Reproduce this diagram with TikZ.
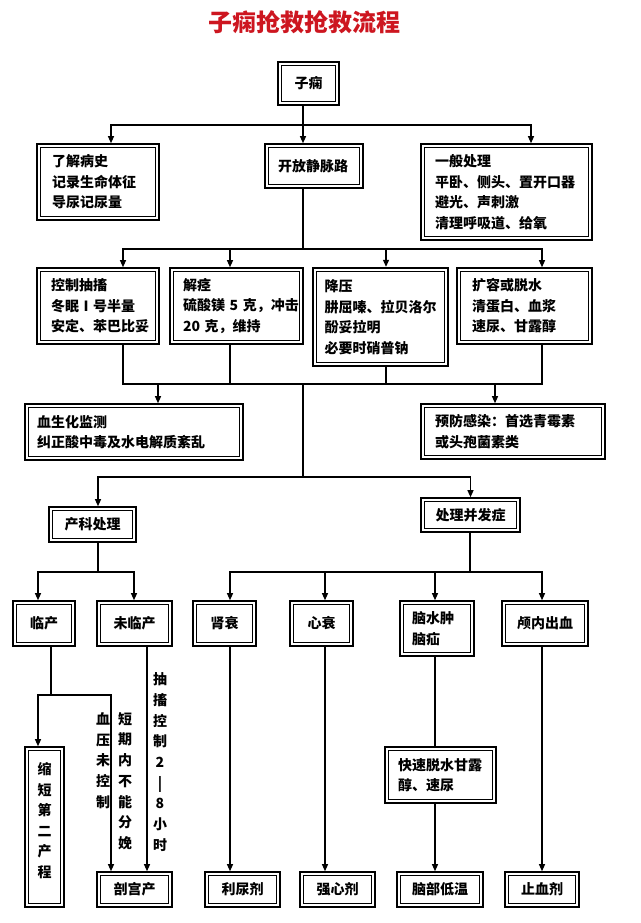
\documentclass[tikz,border=0pt]{standalone}
\usepackage{fontspec}
\newfontfamily\cjk{Noto Sans CJK SC}
\usetikzlibrary{arrows.meta}
\definecolor{titlered}{RGB}{205,22,32}
\tikzset{
  dbox/.style={draw, line width=1.6pt, inner sep=0pt, fill=white,
    font=\cjk\bfseries\fontsize{14}{20.5}\selectfont,
    path picture={\draw[line width=0.9pt] ([shift={(3.6pt,3.6pt)}]path picture bounding box.south west) rectangle ([shift={(-3.6pt,-3.6pt)}]path picture bounding box.north east);}},
  lbox/.style={align=left},
  vtxt/.style={align=center, inner sep=0pt, font=\cjk\bfseries\fontsize{14}{20.7}\selectfont},
  arr/.style={-{Triangle[length=7pt, width=6pt]}}
}
\begin{document}
\begin{tikzpicture}[x=1pt, y=-1pt, line width=1.1pt]
		\fill[white] (0,0) rectangle (640,923);
		\useasboundingbox (0,0) rectangle (640,923);
		\node[font=\cjk\bfseries\fontsize{24}{28}\selectfont, text=titlered] (title) at (304,22) {子痫抢救抢救流程};
		
		\node[dbox, minimum width=61pt, minimum height=43pt] (top) at (308.5,83.5) {子痫};
		
		\node[dbox, lbox, minimum width=122pt, minimum height=76pt, text width=92pt] (hist) at (98,182) {了解病史\\记录生命体征\\导尿记尿量};
		\node[dbox, lbox, minimum width=98pt, minimum height=44pt, text width=72pt] (iv) at (314,166) {开放静脉路};
		\node[dbox, lbox, minimum width=171pt, minimum height=96pt, text width=143pt] (gen) at (506.5,192) {一般处理\\平卧、侧头、置开口器\\避光、声刺激\\清理呼吸道、给氧};
		
		\node[dbox, lbox, minimum width=122pt, minimum height=76pt, text width=94pt] (conv) at (98,306) {控制抽搐\\冬眠Ⅰ号半量\\安定、苯巴比妥};
		\node[dbox, lbox, minimum width=133pt, minimum height=76pt, text width=107pt] (spasm) at (236.5,306) {解痉\\硫酸镁~5~克，冲击\\20~克，维持};
		\node[dbox, lbox, line width=2.4pt, minimum width=135pt, minimum height=98pt, text width=112pt] (bp) at (380.5,317) {降压\\肼屈嗪、拉贝洛尔\\酚妥拉明\\必要时硝普钠};
		\node[dbox, lbox, minimum width=135pt, minimum height=76pt, text width=105pt] (fluid) at (524.5,306) {扩容或脱水\\清蛋白、血浆\\速尿、甘露醇};
		
		\node[dbox, lbox, minimum width=218pt, minimum height=56pt, text width=194pt] (lab) at (134,432) {血生化监测\\纠正酸中毒及水电解质紊乱};
		\node[dbox, lbox, minimum width=184pt, minimum height=55pt, text width=156pt] (inf) at (513,431.5) {预防感染：首选青霉素\\或头孢菌素类};
		
		\node[dbox, minimum width=87pt, minimum height=35pt] (obst) at (92.5,524.5) {产科处理};
		\node[dbox, minimum width=99pt, minimum height=34pt] (comp) at (470.5,515) {处理并发症};
		
		\node[dbox, minimum width=62pt, minimum height=45pt] (labor) at (44,623.5) {临产};
		\node[dbox, minimum width=75pt, minimum height=45pt] (prelab) at (134.5,623.5) {未临产};
		\node[dbox, minimum width=63pt, minimum height=45pt] (kid) at (224.5,623.5) {肾衰};
		\node[dbox, minimum width=63pt, minimum height=45pt] (heart) at (321.5,623.5) {心衰};
		\node[dbox, lbox, minimum width=74pt, minimum height=55pt, text width=50pt] (brain) at (437,628.5) {脑水肿\\脑疝};
		\node[dbox, minimum width=86pt, minimum height=45pt] (bleed) at (545,623.5) {颅内出血};
		
		\node[dbox, align=center, minimum width=39pt, minimum height=160pt] (shorten) at (44.5,827) {缩\\短\\第\\二\\产\\程\\[-6pt]\mbox{}};
		\node[dbox, lbox, minimum width=111pt, minimum height=56pt, text width=85pt] (dehyd) at (440.5,775) {快速脱水甘露\\醇、速尿};
		\node[dbox, minimum width=75pt, minimum height=35pt] (cs) at (134.5,889.5) {剖宫产};
		\node[dbox, minimum width=75pt, minimum height=35pt] (diur) at (242.5,889.5) {利尿剂};
		\node[dbox, minimum width=75pt, minimum height=35pt] (card) at (337.5,889.5) {强心剂};
		\node[dbox, minimum width=86pt, minimum height=35pt] (cool) at (440,889.5) {脑部低温};
		\node[dbox, minimum width=74pt, minimum height=35pt] (stop) at (542,889.5) {止血剂};
		
		\node[vtxt] (n1) at (103,760.4) {血\\压\\未\\控\\制};
		\node[vtxt] (n2) at (125,781) {短\\期\\内\\不\\能\\分\\娩};
		\node[vtxt] (n3) at (160,762) {抽\\搐\\控\\制\\2\\|\\8\\小\\时};
		
		\coordinate (b1) at (303,125);
		\coordinate (b2) at (303,249);
		\coordinate (b3) at (303,384);
		\coordinate (b4) at (303,477);
		\coordinate (b5) at (98,572);
		\coordinate (b6) at (470,572);
		\coordinate (b7) at (51,695);
		
		\draw (b1 |- top.south) -- (b1);
		\draw[arr] (b1) -| ([xshift=13pt]hist.north);
		\draw[arr] (b1) -- (b1 |- iv.north);
		\draw[arr] (b1) -| ([xshift=24.5pt]gen.north);
		
		\draw (b2 |- iv.south) -- (b2);
		\draw[arr] (b2) -| ([xshift=25pt]conv.north);
		\draw[arr] (b2) -| ([xshift=-6.5pt]spasm.north);
		\draw[arr] (b2) -| ([xshift=5.5pt]bp.north);
		\draw[arr] (b2) -| ([xshift=17.5pt]fluid.north);
		
		\draw ([xshift=25pt]conv.south) |- (b3);
		\draw ([xshift=-6.5pt]spasm.south) |- (b3);
		\draw ([xshift=5.5pt]bp.south) |- (b3);
		\draw ([xshift=17.5pt]fluid.south) |- (b3);
		\draw[arr] (b3) -| ([xshift=24pt]lab.north);
		\draw[arr] (b3) -| ([xshift=-18pt]inf.north);
		\draw (b3) -- (b4);
		
		\draw[arr] (b4) -| ([xshift=5.5pt]obst.north);
		\draw[arr] (b4) -| (comp.north);
		
		\draw ([xshift=5.5pt]obst.south) -- (b5);
		\draw[arr] (b5) -| ([xshift=-6pt]labor.north);
		\draw[arr] (b5) -| ([xshift=-0.5pt]prelab.north);
		\draw (b6 |- comp.south) -- (b6);
		\draw[arr] (b6) -| ([xshift=5.5pt]kid.north);
		\draw[arr] (b6) -| ([xshift=3.5pt]heart.north);
		\draw[arr] (b6) -| ([xshift=-2pt]brain.north);
		\draw[arr] (b6) -| ([xshift=-3pt]bleed.north);
		
		\draw ([xshift=7pt]labor.south) -- (b7);
		\draw[arr] (b7) -| ([xshift=-6.5pt]shorten.north);
		\draw[arr] (b7) -| ([xshift=-23.5pt]cs.north);
		\draw[arr] ([xshift=12.5pt]prelab.south) -- ([xshift=12.5pt]cs.north);
		\draw[arr] ([xshift=5.5pt]kid.south) -- ([xshift=-12.5pt]diur.north);
		\draw[arr] ([xshift=3.5pt]heart.south) -- ([xshift=-12.5pt]card.north);
		\draw ([xshift=-2pt]brain.south) -- ([xshift=-5.5pt]dehyd.north);
		\draw[arr] ([xshift=-5.5pt]dehyd.south) -- ([xshift=-5pt]cool.north);
		\draw[arr] ([xshift=-3pt]bleed.south) -- (stop.north);
	\end{tikzpicture}
\end{document}
